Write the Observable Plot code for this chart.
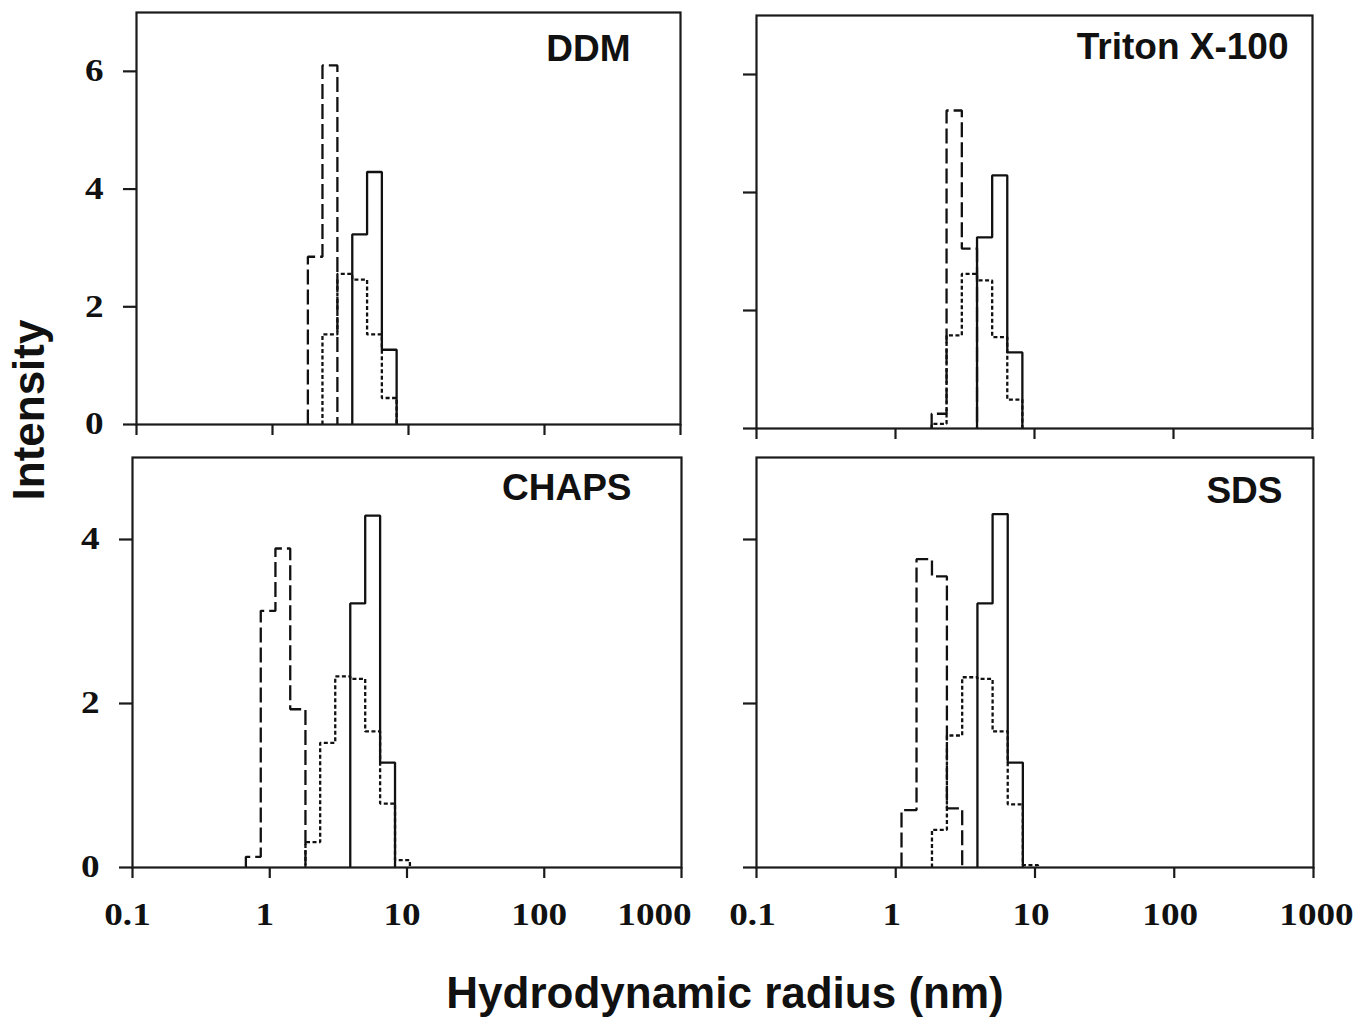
<!DOCTYPE html>
<html>
<head>
<meta charset="utf-8">
<script src="https://cdn.jsdelivr.net/npm/d3@7"></script>
<script src="https://cdn.jsdelivr.net/npm/@observablehq/plot@0.6"></script>
<style>
  body { margin: 0; background: #fff; }
  #fig { position: relative; width: 1372px; height: 1021px; overflow: hidden; background: #fff; }
  .panel { position: absolute; }
  .atitle { position: absolute; font-family: "Liberation Sans", Arial, sans-serif; font-weight: bold;
            font-size: 44px; line-height: 44px; color: #111; white-space: nowrap; }
</style>
</head>
<body>
<div id="fig">
  <div class="atitle" id="ytitle" style="left:29px; top:410px; transform: translate(-50%,-50%) rotate(-90deg);">Intensity</div>
  <div class="atitle" id="xtitle" style="left:725px; top:971px; transform: translateX(-50%);">Hydrodynamic radius (nm)</div>
</div>
<script>
// ---- data ----
// histogram bin edges (nm), log-spaced bins of the DLS size distribution
const binEdges = [0.67, 0.86, 1.1, 1.41, 1.82, 2.33, 3.0, 3.86, 4.96, 6.37, 8.18, 10.5];

const panelNames = ["DDM", "Triton X-100", "CHAPS", "SDS"];
const seriesKeys = ["solid", "dashed", "dotted"];

// intensities per bin (11 bins)
const ddmSolid     = [0, 0, 0, 0, 0, 0, 0, 3.23, 4.29, 1.27, 0];
const ddmDashed    = [0, 0, 0, 0, 2.85, 6.10, 0, 0, 0, 0, 0];
const ddmDotted    = [0, 0, 0, 0, 0, 1.53, 2.56, 2.46, 1.53, 0.45, 0];

const tritonSolid  = [0, 0, 0, 0, 0, 0, 0, 3.24, 4.29, 1.29, 0];
const tritonDashed = [0, 0, 0, 0, 0.25, 5.39, 3.05, 0, 0, 0, 0];
const tritonDotted = [0, 0, 0, 0, 0.08, 1.58, 2.62, 2.51, 1.55, 0.49, 0];

const chapsSolid   = [0, 0, 0, 0, 0, 0, 0, 3.22, 4.29, 1.28, 0];
const chapsDashed  = [0.13, 3.13, 3.89, 1.93, 0, 0, 0, 0, 0, 0, 0];
const chapsDotted  = [0, 0, 0, 0, 0.31, 1.52, 2.33, 2.30, 1.66, 0.78, 0.09];

const sdsSolid     = [0, 0, 0, 0, 0, 0, 0, 3.22, 4.31, 1.28, 0];
const sdsDashed    = [0, 0, 0.70, 3.76, 3.55, 0.72, 0, 0, 0, 0, 0];
const sdsDotted    = [0, 0, 0, 0, 0.46, 1.61, 2.32, 2.30, 1.66, 0.77, 0.03];

const xTicks = [0.1, 1, 10, 100, 1000];
const xTickLabels = ["0.1", "1", "10", "100", "1000"];
const yTicksTop = [0, 2, 4, 6];
const yTicksBottom = [0, 2, 4];
const yMaxTop = 7;
const yMaxBottom = 5;

// ---- presentation ----
const panelData = [
  [ddmSolid, ddmDashed, ddmDotted],
  [tritonSolid, tritonDashed, tritonDotted],
  [chapsSolid, chapsDashed, chapsDotted],
  [sdsSolid, sdsDashed, sdsDotted]
];
const dashes = {solid: null, dashed: "15,5", dotted: "4,2.5"};
const ink = "#111";

const layout = [
  {left: 40,  top: 0,   width: 655, height: 444, mt: 12, mr: 15, mb: 20, ml: 96, ymax: yMaxTop,    yt: yTicksTop,    ylab: true,  xlab: false, ldx: -50, ldy: 22, dxA: -5, dxB: -27},
  {left: 700, top: 0,   width: 632, height: 448, mt: 15, mr: 20, mb: 20, ml: 56, ymax: yMaxTop,    yt: yTicksTop,    ylab: false, xlab: false, ldx: -24, ldy: 17, dxA: -4, dxB: 3},
  {left: 40,  top: 440, width: 656, height: 497, mt: 17, mr: 15, mb: 70, ml: 92, ymax: yMaxBottom, yt: yTicksBottom, ylab: true,  xlab: true,  ldx: -50, ldy: 16, dxA: -5, dxB: -27},
  {left: 700, top: 440, width: 658, height: 497, mt: 17, mr: 45, mb: 70, ml: 56, ymax: yMaxBottom, yt: yTicksBottom, ylab: false, xlab: true,  ldx: -31, ldy: 19, dxA: -4, dxB: 3}
];

function outline(values, key) {
  const i0 = values.findIndex(v => v > 0);
  let i1 = values.length - 1;
  while (i1 > 0 && !(values[i1] > 0)) i1--;
  const pts = [{x: binEdges[i0], y: 0, s: key}];
  for (let i = i0; i <= i1; i++) pts.push({x: binEdges[i], y: values[i], s: key});
  pts.push({x: binEdges[i1 + 1], y: 0, s: key});
  return pts;
}

const fmtX = d => xTickLabels[xTicks.indexOf(d)];
const fig = document.getElementById("fig");

layout.forEach((L, p) => {
  const lines = seriesKeys.map((key, k) =>
    Plot.line(outline(panelData[p][k], key), {
      x: "x", y: "y", curve: "step-after",
      stroke: ink, strokeWidth: 2.3,
      strokeDasharray: dashes[key] ?? undefined,
      strokeLinejoin: "miter", strokeLinecap: "butt"
    })
  );
  const marks = [
    ...lines,
    Plot.frame({stroke: "#1a1a1a", strokeWidth: 2.2}),
    Plot.axisY({ticks: L.yt, label: null, tickSize: 13, tickPadding: 20, strokeWidth: 2.2, stroke: "#1a1a1a",
                tickFormat: L.ylab ? (d => String(d)) : (() => "")}),
    Plot.axisX({ticks: xTicks, label: null, tickSize: 11, strokeWidth: 2.2, stroke: "#1a1a1a", tickFormat: () => ""}),
    Plot.text([panelNames[p]], {
      frameAnchor: "top-right", lineAnchor: "top", dx: L.ldx, dy: L.ldy, text: d => d,
      fontFamily: "'Liberation Sans', Arial, sans-serif", fontSize: 37, fontWeight: "bold", fill: ink
    })
  ];
  if (L.xlab) {
    marks.push(Plot.axisX({ticks: xTicks.slice(0, 4), label: null, tickSize: 0, tickPadding: 35, dx: L.dxA, tickFormat: fmtX}));
    marks.push(Plot.axisX({ticks: xTicks.slice(4), label: null, tickSize: 0, tickPadding: 35, dx: L.dxB, tickFormat: fmtX}));
  }
  const chart = Plot.plot({
    width: L.width, height: L.height,
    marginTop: L.mt, marginRight: L.mr, marginBottom: L.mb, marginLeft: L.ml,
    style: {background: "transparent", overflow: "visible", color: ink,
            fontFamily: "'Liberation Serif', 'Times New Roman', serif", fontSize: "31px", fontWeight: "bold"},
    x: {type: "log", domain: [0.1, 1000], label: null},
    y: {domain: [0, L.ymax], label: null},
    marks
  });
  // widen serif tick labels horizontally like the original typeface
  chart.querySelectorAll('g[aria-label$="tick label"] text').forEach(t => {
    const tr = t.getAttribute("transform");
    if (tr) {
      t.setAttribute("transform", tr + " scale(1.2,1)");
    } else {
      const x = +(t.getAttribute("x") || 0), y = +(t.getAttribute("y") || 0);
      t.removeAttribute("x"); t.removeAttribute("y");
      t.setAttribute("transform", `translate(${x},${y}) scale(1.2,1)`);
    }
  });
  const holder = document.createElement("div");
  holder.className = "panel";
  holder.style.left = L.left + "px";
  holder.style.top = L.top + "px";
  holder.appendChild(chart);
  fig.appendChild(holder);
});
</script>
</body>
</html>
